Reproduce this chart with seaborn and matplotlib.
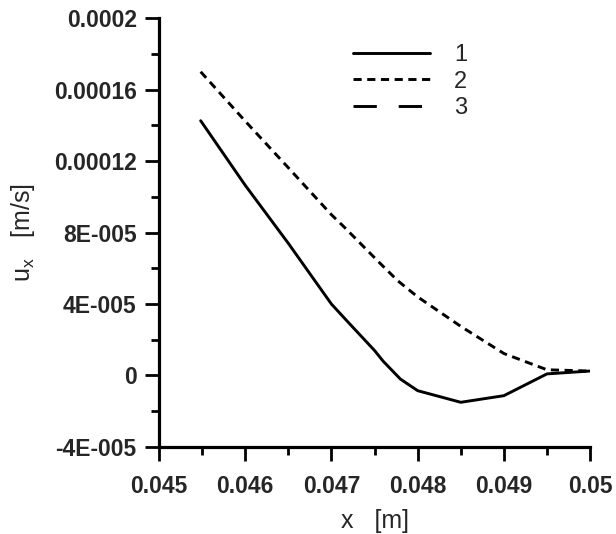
import numpy as np
import pandas as pd
import matplotlib
matplotlib.use("Agg")
import matplotlib.pyplot as plt
from matplotlib.lines import Line2D
import seaborn as sns

# curve 1 (solid)
x1 = [0.045484, 0.046, 0.0465, 0.047, 0.04721, 0.0475, 0.0476, 0.0478, 0.048, 0.0485, 0.049, 0.0495, 0.05]
u1 = [1.426e-4, 1.065e-4, 7.4e-5, 4.0e-5, 2.9e-5, 1.4e-5, 0.8e-5, -0.2e-5, -0.85e-5, -1.5e-5, -1.13e-5, 0.09e-5, 0.25e-5]

# curve 2 (dashed)
x2 = [0.045484, 0.046, 0.0465, 0.047, 0.04715, 0.04756, 0.04777, 0.048, 0.0485, 0.049, 0.0495, 0.05]
u2 = [1.70e-4, 1.424e-4, 1.163e-4, 9.0e-5, 8.3e-5, 6.3e-5, 5.3e-5, 4.4e-5, 2.75e-5, 1.23e-5, 0.32e-5, 0.25e-5]

series_names = ["1", "2", "3"]

xticks = [0.045, 0.046, 0.047, 0.048, 0.049, 0.05]
xtick_labels = ["0.045", "0.046", "0.047", "0.048", "0.049", "0.05"]
yticks = [0.0002, 0.00016, 0.00012, 0.00008, 0.00004, 0.0, -0.00004]
ytick_labels = ["0.0002", "0.00016", "0.00012", "8E-005", "4E-005", "0", "-4E-005"]

sns.set_style("ticks")
plt.rcParams['font.family'] = ['Liberation Sans', 'DejaVu Sans']

fig = plt.figure(figsize=(6.16, 5.34), dpi=100)
ax = fig.add_axes([0.258, 0.163, 0.70, 0.803])

df1 = pd.DataFrame({"x": x1, "u": u1})
df2 = pd.DataFrame({"x": x2, "u": u2})
sns.lineplot(data=df1, x="x", y="u", ax=ax, color="black", lw=2.1, sort=False)
sns.lineplot(data=df2, x="x", y="u", ax=ax, color="black", lw=2.1, sort=False,
             linestyle=(0, (2.8, 1.9)))

ax.set_xlim(0.045, 0.05)
ax.set_ylim(-0.00004, 0.0002)
ax.set_xticks(xticks)
ax.set_xticklabels(xtick_labels, fontsize=16.5, fontweight="bold")
ax.set_yticks(yticks)
ax.set_yticklabels(ytick_labels, fontsize=16.5, fontweight="bold")
ax.set_xticks(np.arange(0.0455, 0.05, 0.001), minor=True)
ax.set_yticks(np.arange(-0.00002, 0.0002, 0.00004), minor=True)

ax.tick_params(which="major", direction="out", length=10, width=2, color="black", pad=6)
ax.tick_params(which="minor", direction="out", length=5.5, width=2, color="black")
ax.tick_params(axis="x", which="major", pad=10)

sns.despine(ax=ax)
for s in ["left", "bottom"]:
    ax.spines[s].set_linewidth(2.3)
    ax.spines[s].set_color("black")

ax.set_xlabel(r"x   [m]", fontsize=18, labelpad=8)
ax.set_ylabel(r"u$_\mathregular{x}$   [m/s]", fontsize=18, labelpad=12)

handles = [
    Line2D([], [], color="black", lw=2.1),
    Line2D([], [], color="black", lw=2.1, linestyle=(0, (2.8, 1.9))),
    Line2D([], [], color="black", lw=2.1, linestyle=(0, (8, 7.5))),
]
ax.legend(handles, series_names, loc="upper left", bbox_to_anchor=(0.449, 0.94),
          frameon=False, fontsize=17, handlelength=3.3, handletextpad=1.0,
          labelspacing=0.2, borderpad=0, borderaxespad=0)

fig.savefig("out.png", dpi=100, facecolor="white")
